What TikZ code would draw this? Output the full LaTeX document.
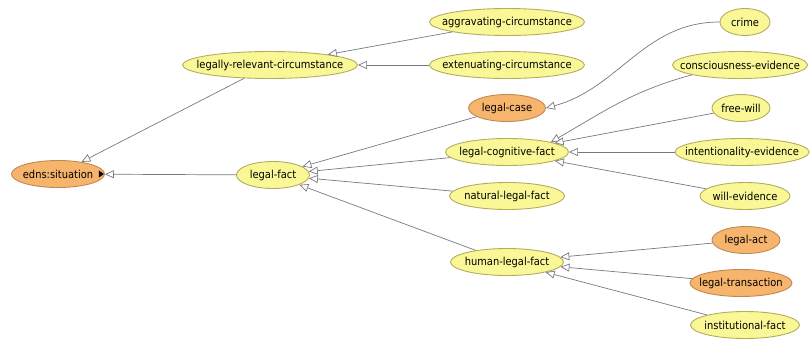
\documentclass[tikz,border=0pt]{standalone}
\usepackage{fontspec}
\setmainfont{DejaVu Sans Condensed}
\usetikzlibrary{shapes.geometric, arrows.meta}

\definecolor{clsfill}{RGB}{250,247,150}
\definecolor{clsdraw}{RGB}{180,172,95}
\definecolor{defill}{RGB}{246,180,108}
\definecolor{dedraw}{RGB}{190,138,84}
\definecolor{isa}{RGB}{120,120,130}

\tikzset{
  cls/.style = {ellipse, draw = clsdraw, fill = clsfill, line width = 0.9pt,
                inner xsep = -22pt, inner ysep = 0pt, minimum height = 27pt,
                font = \fontsize{11}{13}\selectfont},
  defined/.style = {cls, draw = dedraw, fill = defill},
  sub/.style = {draw = isa, line width = 0.7pt,
                -{Triangle[open, length = 9pt, width = 8pt, fill = white]}}
}

\begin{document}
\begin{tikzpicture}[x = 1pt, y = -1pt]
  \useasboundingbox (0,0) rectangle (810,338);
  % left part
  \node[defined, minimum width = 93pt] (sit) at (58,174) {edns:situation};
  \node[cls, minimum width = 73pt] (fact) at (273,175) {legal-fact};
  \node[cls, minimum width = 175pt] (lrc) at (270,65) {legally-relevant-circumstance};
  % middle column
  \node[cls, minimum width = 155pt] (aggr) at (507,22) {aggravating-circumstance};
  \node[cls, minimum width = 155pt] (ext) at (507,65) {extenuating-circumstance};
  \node[defined, minimum width = 77pt] (case) at (507,108) {legal-case};
  \node[cls, minimum width = 123pt] (cogn) at (507,152) {legal-cognitive-fact};
  \node[cls, minimum width = 115pt] (natural) at (507,196) {natural-legal-fact};
  \node[cls, minimum width = 113pt] (human) at (507,262) {human-legal-fact};
  % right column
  \node[cls, minimum width = 50pt] (crime) at (745,22) {crime};
  \node[cls, minimum width = 135pt] (consc) at (740,65) {consciousness-evidence};
  \node[cls, minimum width = 58pt] (free) at (741,108) {free-will};
  \node[cls, minimum width = 134pt] (intent) at (742,152) {intentionality-evidence};
  \node[cls, minimum width = 90pt] (will) at (745,196) {will-evidence};
  \node[defined, minimum width = 68pt] (act) at (746,240) {legal-act};
  \node[defined, minimum width = 102pt] (trans) at (741,283) {legal-transaction};
  \node[cls, minimum width = 109pt] (inst) at (745,325) {institutional-fact};

  % expand marker
  \fill (sit.east) ++(-6,-3.5) -- ++(5,3.5) -- ++(-5,3.5) -- cycle;

  % subclass links
  \draw[sub] (fact) -- (sit);
  \draw[sub] (lrc) -- (sit);
  \draw[sub] (aggr) -- (lrc);
  \draw[sub] (ext) -- (lrc);
  \draw[sub] (case) -- (fact);
  \draw[sub] (cogn) -- (fact);
  \draw[sub] (natural) -- (fact);
  \draw[sub] (human) -- (fact);
  \draw[sub] (crime.west) to[out = 180, in = 15] (case.east);
  \draw[sub] (consc.south west) to[out = 195, in = 30] (cogn.north east);
  \draw[sub] (free) -- (cogn);
  \draw[sub] (intent) -- (cogn);
  \draw[sub] (will) -- (cogn);
  \draw[sub] (act) -- (human);
  \draw[sub] (trans) -- (human);
  \draw[sub] (inst) -- (human);
\end{tikzpicture}
\end{document}
